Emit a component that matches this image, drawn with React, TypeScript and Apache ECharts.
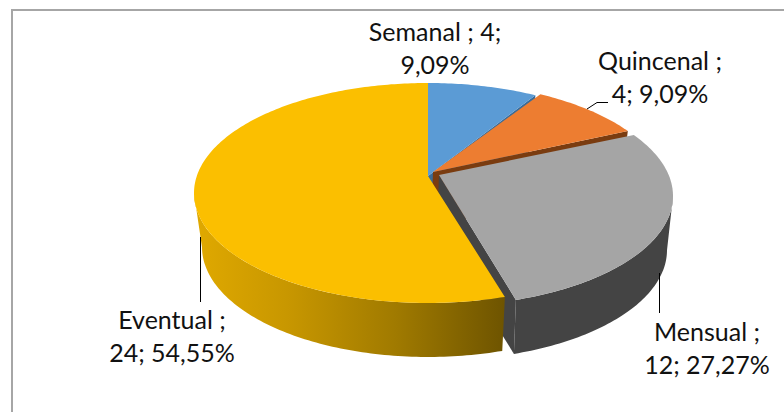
import React, { useEffect, useRef } from "react";
import * as echarts from "echarts";

const categories = ["Semanal", "Quincenal", "Mensual", "Eventual"];
const values = [4, 4, 12, 24];
const percentLabels = ["9,09%", "9,09%", "27,27%", "54,55%"];
const topColors = ["#5B9BD5", "#ED7D31", "#A5A5A5", "#FBBF00"];
const cutColors = ["#3A6C99", "#7A3C10", "#444444", "#7A5C00"];
const explodeX = [0, 5, 11, 0];
const explodeY = [0, -1, 3, 0];
const bottomWiden = [0, 0, 2, 0];
const apexX = [428, 433, 439, 428];
const apexY = [176, 172, 175, 176];
const labelLines = [
  (n: string, v: number, p: string) => [`${n} ; ${v};`, p],
  (n: string, v: number, p: string) => [`${n} ;`, `${v}; ${p}`],
  (n: string, v: number, p: string) => [`${n} ;`, `${v}; ${p}`],
  (n: string, v: number, p: string) => [`${n} ;`, `${v}; ${p}`],
];
const labelX = [435, 660, 707, 172];
const labelY = [31, 60, 331, 319];
const leaderLines = [
  null,
  [[587, 109], [597, 102.5], [608, 102.5]],
  [[659.5, 273], [659.5, 313]],
  [[200.5, 237], [200.5, 302]],
];

const TOP = { cx: 428, cy: 193, a: 234, b: 110, widen: 0 };
const BOT = { cx: 428, cy: 247, a: 226, b: 110, widen: 1 };
const total = values.reduce((s, v) => s + v, 0);
const DEG = Math.PI / 180;

// perspective correction: a slice's true angle to its angle on the drawn ellipse
const proj = (deg: number) => deg - 10 * Math.sin(deg * DEG);

const rim = (e: typeof TOP, i: number, deg: number) => {
  const t = proj(deg) * DEG;
  const a = e.a + e.widen * bottomWiden[i];
  return [e.cx + explodeX[i] + a * Math.sin(t), e.cy + explodeY[i] - e.b * Math.cos(t)];
};

const arc = (e: typeof TOP, i: number, from: number, to: number) => {
  const pts: number[][] = [];
  const n = Math.max(4, Math.ceil(Math.abs(to - from)));
  for (let k = 0; k <= n; k++) pts.push(rim(e, i, from + ((to - from) * k) / n));
  return pts;
};

const poly = (points: number[][], fill: any) => ({
  type: "polygon",
  shape: { points },
  style: { fill, stroke: null },
});

const renderSlice = (params: any, api: any) => {
  const i = params.dataIndex;
  const start = api.value(1) as number;
  const end = api.value(2) as number;
  const startDeg = (start / total) * 360;
  const endDeg = (end / total) * 360;
  const apex = [apexX[i], apexY[i]];
  const apexBot = [apexX[i] - 2, apexY[i] + 55];
  const children: any[] = [];

  if (i < 2) {
    // clockwise cut face hidden behind the next slice
    children.push(poly([apex, rim(TOP, i, endDeg), rim(BOT, i, endDeg), apexBot], cutColors[i]));
  }
  if (i === 2) {
    const wallStart = 100; // the rightmost point of the drawn ellipse
    children.push(poly([apex, rim(TOP, i, endDeg), rim(BOT, i, endDeg), apexBot], cutColors[i]));
    children.push(
      poly(
        [...arc(TOP, i, wallStart, endDeg), ...arc(BOT, i, endDeg, wallStart)],
        cutColors[i]
      )
    );
  }
  if (i === 3) {
    // outer wall from the front corner round to the far left
    const wallEnd = 260;
    children.push(
      poly(
        [...arc(TOP, i, startDeg, wallEnd), ...arc(BOT, i, wallEnd, startDeg)],
        new echarts.graphic.LinearGradient(0, 0, 1, 0, [
          { offset: 0, color: "#E0A900" },
          { offset: 0.3, color: "#C89700" },
          { offset: 0.65, color: "#A07A00" },
          { offset: 1, color: "#6E5400" },
        ])
      )
    );
  }
  children.push(poly([apex, ...arc(TOP, i, startDeg, endDeg)], topColors[i]));
  return { type: "group", children };
};

const renderOverlay = (params: any, api: any) => {
  const i = params.dataIndex;
  const children: any[] = [];
  const leader = leaderLines[i];
  if (leader) {
    children.push({
      type: "polyline",
      shape: { points: leader },
      style: { stroke: "#000000", lineWidth: 1, fill: null },
    });
  }
  const lines = labelLines[i](categories[i], values[i], percentLabels[i]);
  lines.forEach((text, k) => {
    children.push({
      type: "text",
      x: labelX[i],
      y: labelY[i] + k * 32.5,
      style: {
        text,
        fill: "#111111",
        font: '25px Lato, "Noto Sans", sans-serif',
        align: "center",
        verticalAlign: "middle",
      },
    });
  });
  return { type: "group", children };
};

const cumulative = values.map((v, i) => {
  const start = values.slice(0, i).reduce((s, x) => s + x, 0);
  return [v, start, start + v];
});

export default function App() {
  const ref = useRef<HTMLDivElement>(null);
  useEffect(() => {
    const chart = echarts.init(ref.current!, undefined, { renderer: "svg" });
    chart.setOption({
      animation: false,
      backgroundColor: "#ffffff",
      graphic: [
        {
          type: "polyline",
          shape: { points: [[12, 412], [12, 10], [784, 10]] },
          style: { stroke: "#A6A6A6", lineWidth: 2, fill: null },
          z: 0,
        },
      ],
      series: [
        {
          type: "custom",
          coordinateSystem: "none",
          data: cumulative,
          renderItem: renderSlice,
          encode: { value: [0, 1, 2] },
          z: 2,
          silent: true,
        },
        {
          type: "custom",
          coordinateSystem: "none",
          data: cumulative,
          renderItem: renderOverlay,
          z: 3,
          silent: true,
        },
      ],
    });
    return () => chart.dispose();
  }, []);
  return (
    <div
      ref={ref}
      style={{ position: "absolute", left: 0, top: 0, width: 784, height: 412 }}
    />
  );
}
